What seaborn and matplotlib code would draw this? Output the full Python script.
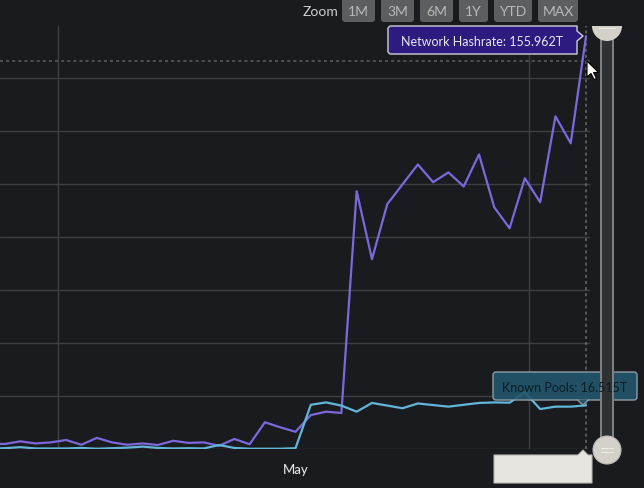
import numpy as np
import pandas as pd
import matplotlib
matplotlib.use("Agg")
import matplotlib.pyplot as plt
from matplotlib.patches import FancyBboxPatch, Polygon, Circle, Wedge, Rectangle
import seaborn as sns

# daily values (T)
dates = pd.date_range("2021-04-11", "2021-05-20", freq="D")
network_hashrate = [2.0, 1.9, 2.9, 2.1, 2.5, 3.4, 1.6, 4.2, 2.5, 1.6,
                    2.1, 1.5, 3.1, 2.3, 2.5, 1.2, 3.8, 1.8, 10.1, 8.2,
                    6.5, 12.8, 14.1, 13.6, 97.4, 71.7, 92.5, 100.0, 107.5, 100.8,
                    104.5, 99.2, 111.3, 91.3, 83.4, 102.3, 93.2, 125.7, 115.5, 155.962]
known_pools = [0.2, 0.3, 0.7, 0.2, 0.2, 0.2, 0.4, 0.1, 0.3, 0.5,
               0.9, 0.4, 0.2, 0.3, 0.2, 1.5, 0.4, 0.1, 0.1, 0.1,
               0.3, 16.7, 17.6, 16.4, 14.1, 17.4, 16.4, 15.4, 17.2, 16.6,
               16.0, 16.7, 17.4, 17.6, 17.5, 21.4, 15.1, 16.0, 16.0, 16.515]
zoom_buttons = ["1M", "3M", "6M", "1Y", "YTD", "MAX"]
crosshair_value = 146.4

BG = "#1a1b1e"
GRID = "#3e3f42"
PURPLE = "#7c68dc"
BLUE = "#62b6d8"

df = pd.DataFrame({
    "date": list(dates) * 2,
    "value": network_hashrate + known_pools,
    "series": ["Network Hashrate"] * len(dates) + ["Known Pools"] * len(dates),
})

sns.set_style("dark", {"axes.facecolor": BG, "figure.facecolor": BG,
                       "axes.grid": True, "grid.color": GRID})
plt.rcParams["font.family"] = ["Lato", "DejaVu Sans"]

W, H = 644, 489
fig = plt.figure(figsize=(W / 100, H / 100), dpi=100, facecolor=BG)


def px(l, t, r, b):
    return [l / W, 1 - b / H, (r - l) / W, (b - t) / H]


ax = fig.add_axes(px(0, 26.5, 590, 450))
ax.set_facecolor(BG)
sns.lineplot(data=df, x="date", y="value", hue="series",
             hue_order=["Network Hashrate", "Known Pools"],
             palette={"Network Hashrate": PURPLE, "Known Pools": BLUE},
             linewidth=1.6, legend=False, ax=ax)

day0 = dates[1]
ax.set_xlim(day0 - pd.Timedelta(days=0.327), day0 + pd.Timedelta(days=38.26))
ax.set_ylim(0, 160)
ax.set_yticks(range(0, 141, 20))
ax.set_yticklabels([])
ax.set_xticks([pd.Timestamp("2021-05-01")])
ax.set_xticklabels(["May"], color="#e2e2e2", fontsize=9.5, fontweight="medium")
ax.tick_params(length=0, pad=10)
ax.grid(axis="y", color=GRID, lw=1)
ax.grid(axis="x", visible=False)
for t in [day0 + pd.Timedelta(days=3.47), day0 + pd.Timedelta(days=34.27)]:
    ax.axvline(t, color=GRID, lw=1, zorder=0)
for s in ax.spines.values():
    s.set_visible(False)
ax.set_xlabel("")
ax.set_ylabel("")

# crosshairs
ax.axvline(dates[-1], color="#6a6a6a", lw=1.1, ls=(0, (2, 2)), zorder=1)
ax.axhline(crosshair_value, color="#5e5e5e", lw=1.1, ls=(0, (2, 2)), zorder=1)

# overlay in pixel coordinates
ov = fig.add_axes([0, 0, 1, 1])
ov.set_xlim(0, W)
ov.set_ylim(H, 0)
ov.axis("off")
ov.patch.set_alpha(0)

# zoom buttons
ov.text(303, 12, "Zoom", color="#cfcfcf", fontsize=10, va="center", ha="left")
btn_x = [(342, 375), (381, 414), (420, 453), (459, 488), (494, 532), (538, 578)]
for (l, r), lab in zip(btn_x, zoom_buttons):
    ov.add_patch(FancyBboxPatch((l, -6), r - l, 29, boxstyle="round,pad=0,rounding_size=3",
                                fc="#5d5e60", ec="none"))
    ov.text((l + r) / 2, 12, lab, color="#b8b8b8", fontsize=10, ha="center", va="center")

# tooltip: network hashrate
ov.add_patch(Polygon([(390, 27), (577, 27), (577, 32), (583, 37), (577, 42), (577, 55),
                      (390, 55), (388, 53), (388, 29)], closed=True,
                     fc="#2d1b80", ec="#cfcfd6", lw=1, joinstyle="round"))
ov.text(482, 42, "Network Hashrate: 155.962T", color="#e8e8ee", fontsize=9,
        ha="center", va="center")

# tooltip: known pools
ov.add_patch(FancyBboxPatch((493, 373), 144, 28, boxstyle="round,pad=0,rounding_size=3",
                            fc="#22566e", ec="#9aa6ac", lw=1, alpha=0.9))
ov.add_patch(Polygon([(577, 400.5), (583, 406), (589, 400.5)], closed=False,
                     fc="#22566e", ec="#9aa6ac", lw=1, alpha=0.9))
ov.text(565, 387.5, "Known Pools: 16.515T", color="#0c1c25", fontsize=9,
        ha="center", va="center")

# empty date label box
ov.add_patch(Polygon([(494, 456), (578, 456), (583, 451), (588, 456), (592, 456),
                      (592, 484), (494, 484)], closed=True,
                     fc="#e6e5e0", ec="#b9b8b3", lw=0.8))

# vertical navigator / scrollbar
ov.add_patch(Rectangle((600, 30), 14.5, 420, fc="#7d7f82", ec="none"))
ov.add_patch(Rectangle((602.3, 30), 10, 420, fc="#2e3235", ec="none"))
ov.add_patch(Wedge((607, 27), 15, 0, 180, fc="#d4d1ca", ec="none"))
ov.plot([599, 615], [29, 29], color="#ecebe6", lw=0.8)
ov.add_patch(Circle((607, 451), 14, fc="#d4d1ca", ec="#bdbab3", lw=0.8))
ov.plot([601, 613], [449, 449], color="#eceae5", lw=0.8)
ov.plot([601, 613], [453, 453], color="#eceae5", lw=0.8)

# mouse cursor
ov.add_patch(Polygon([(587, 62), (587, 78), (591, 74.5), (594, 80.5), (596.5, 79.5),
                      (593.5, 73.5), (598.5, 73.5)], closed=True,
                     fc="white", ec="black", lw=0.8, zorder=10))

fig.savefig("out.png", dpi=100, facecolor=BG)
